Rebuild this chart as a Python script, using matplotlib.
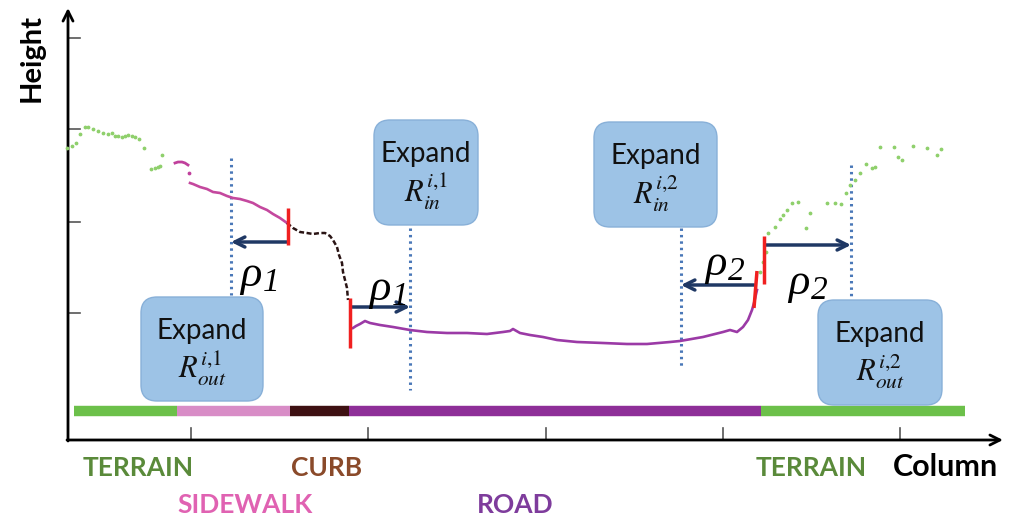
import matplotlib
matplotlib.use("Agg")
import matplotlib.pyplot as plt
from matplotlib.patches import FancyBboxPatch

plt.rcParams['mathtext.fontset'] = 'stix'

# ---------------- data (reference pixel coordinates: column, height-row) -------------
terrain_left_x = [67, 72, 76, 80, 85, 88, 93, 98, 103, 108, 112, 115, 118, 122, 125, 128, 132, 135, 139, 144, 162, 151, 155, 158, 160]
terrain_left_y = [148, 146, 143, 134, 127, 127, 129, 131, 133, 134, 133, 136, 136, 137, 136, 135, 136, 137, 139, 148, 155, 169, 168, 167, 166]

sidewalk_top_x = [175, 178, 182, 185, 188]
sidewalk_top_y = [163, 162, 162, 163, 165]
sidewalk_x = [190, 193, 200, 207, 213, 220, 227, 233, 240, 247, 253, 260, 267, 273, 280, 287]
sidewalk_y = [183, 184, 187, 189, 192, 193, 196, 198, 199, 201, 203, 207, 210, 214, 218, 223]

curb_x = [287, 293, 300, 307, 313, 320, 325, 330, 333, 337, 339, 342, 343, 345, 347, 348]
curb_y = [223, 228, 232, 233, 234, 233, 233, 236, 240, 247, 255, 263, 272, 280, 288, 300]

road_x = [353, 356, 360, 365, 370, 380, 393, 410, 427, 447, 467, 487, 503, 510, 513, 520, 530,
          543, 557, 577, 603, 627, 647, 670, 680, 703, 723, 730, 737, 743, 748, 752, 754, 757]
road_y = [328, 326, 324, 321, 323, 325, 327, 330, 332, 333, 333, 334, 332, 331, 329, 333, 335,
          337, 340, 342, 343, 344, 344, 342, 341, 337, 332, 330, 332, 327, 320, 310, 303, 290]

terrain_right_x = [760, 763, 766, 768, 775, 780, 783, 787, 792, 798, 810, 806, 827, 835, 841, 846, 850,
                   855, 860, 866, 872, 875, 880, 894, 898, 902, 913, 927, 937, 941]
terrain_right_y = [272, 262, 252, 233, 227, 219, 215, 210, 203, 202, 213, 228, 203, 203, 204, 193, 185,
                   180, 173, 164, 168, 167, 147, 147, 157, 160, 146, 148, 155, 149]

# class bar
class_labels = ["TERRAIN", "SIDEWALK", "CURB", "ROAD", "TERRAIN"]
class_start = [74, 177, 290, 349, 761]
class_end = [177, 290, 349, 761, 965]
class_colors = ["#6cc04a", "#d88cc6", "#3e1012", "#8e2f98", "#6cc04a"]
label_colors = ["#5a8a3a", "#e062b2", "#8a4a2a", "#7e3c9c", "#5a8a3a"]
label_x = [138, 245, 327, 515, 811]
label_y = [468, 505, 468, 505, 468]

x_ticks = [191, 368, 546, 723, 900]
y_ticks = [38, 129, 222, 313]

# expand boxes: (left, top, right, bottom) and text
box_left = [141, 374, 594, 818]
box_top = [297, 120, 122, 300]
box_right = [263, 478, 717, 942]
box_bottom = [401, 225, 227, 405]
box_math = [r"$R_{out}^{i{,}1}$", r"$R_{in}^{i{,}1}$", r"$R_{in}^{i{,}2}$", r"$R_{out}^{i{,}2}$"]

# dotted expansion limits
dot_x = [231, 410, 681, 851]
dot_top = [158, 228, 228, 165]
dot_bottom = [295, 390, 366, 296]

# boundary markers (red)
red_x0 = [288, 350, 757, 764]
red_x1 = [288, 350, 754, 764]
red_top = [208, 298, 271, 236]
red_bottom = [245, 348, 308, 284]

# rho arrows
arr_from = [288, 352, 754, 766]
arr_to = [231, 410, 681, 851]
arr_y = [242, 307, 285, 245]
rho_sub = ["1", "1", "2", "2"]
rho_x = [251, 380, 716, 799]
rho_y = [275, 289, 264, 283]

# ---------------- figure ----------------
fig = plt.figure(figsize=(10.13, 5.19), dpi=100)
ax = fig.add_axes([0, 0, 1, 1])
ax.set_xlim(0, 1013)
ax.set_ylim(519, 0)
ax.axis('off')

# axes with arrows
ax.annotate("", xy=(68, 8), xytext=(68, 441),
            arrowprops=dict(arrowstyle="->", lw=2, color="black", mutation_scale=18, shrinkA=0, shrinkB=0))
ax.annotate("", xy=(1003, 440), xytext=(67, 440),
            arrowprops=dict(arrowstyle="->", lw=2, color="black", mutation_scale=18, shrinkA=0, shrinkB=0))
for t in x_ticks:
    ax.plot([t, t], [440, 428], color="#555555", lw=1.2)
for t in y_ticks:
    ax.plot([68, 80], [t, t], color="#555555", lw=1.2)

ax.text(32, 58, "Height", rotation=90, ha='center', va='center', fontsize=21,
        fontweight='bold', family='Lato')
ax.text(945, 467, "Column", ha='center', va='center', fontsize=22, fontweight='bold',
        family='Lato')

# class bar
for s, e, c in zip(class_start, class_end, class_colors):
    ax.plot([s, e], [411, 411], color=c, lw=7.5, solid_capstyle='butt')
for lab, lx, ly, lc in zip(class_labels, label_x, label_y, label_colors):
    ax.text(lx, ly, lab, ha='center', va='center', fontsize=19, fontweight='bold',
            color=lc, family='Lato')

# profile
ax.scatter(terrain_left_x, terrain_left_y, s=3, color="#8fd06c", zorder=3)
ax.plot(sidewalk_top_x, sidewalk_top_y, color="#c0409c", lw=2, zorder=3)
ax.scatter([189], [173], s=3, color="#c0409c", zorder=3)
ax.plot(sidewalk_x, sidewalk_y, color="#c4489e", lw=1.9, zorder=3)
ax.plot(curb_x, curb_y, color="#2a1414", lw=1.8, ls=(0, (2, 1)), zorder=3)
ax.plot(road_x, road_y, color="#9b3aa6", lw=1.9, zorder=3)
ax.scatter(terrain_right_x, terrain_right_y, s=3, color="#8fd06c", zorder=3)

# dotted lines
for x, t, b in zip(dot_x, dot_top, dot_bottom):
    ax.plot([x, x], [t, b], color="#4a78b8", lw=2.2, ls=(0, (0.8, 1.3)), zorder=2)

# arrows
for f, to, y in zip(arr_from, arr_to, arr_y):
    ax.annotate("", xy=(to, y), xytext=(f, y),
                arrowprops=dict(arrowstyle="->", lw=2.5, color="#1f3864",
                                mutation_scale=18, shrinkA=0, shrinkB=0), zorder=4)
for sub, rx, ry in zip(rho_sub, rho_x, rho_y):
    ax.text(rx, ry, "ρ", ha='center', va='center', fontsize=32, color='black',
            family='Liberation Serif', style='italic', zorder=5)
    ax.text(rx + 20, ry + 8, sub, ha='center', va='center', fontsize=24, color='black',
            family='Liberation Serif', style='italic', zorder=5)

# red markers
for x0, x1, t, b in zip(red_x0, red_x1, red_top, red_bottom):
    ax.plot([x0, x1], [t, b], color="#f02020", lw=2.5, zorder=5, solid_capstyle='butt')

# boxes
for l, t, r, b, m in zip(box_left, box_top, box_right, box_bottom, box_math):
    p = FancyBboxPatch((l, t), r - l, b - t, boxstyle="round,pad=0,rounding_size=16",
                       facecolor="#9dc3e6", edgecolor="#88b0d8", lw=1.0, zorder=6)
    ax.add_patch(p)
    cx = (l + r) / 2
    ax.text(cx, t + 34, "Expand", ha='center', va='center', fontsize=20,
            family='Lato', color='#111111', zorder=7)
    ax.text(cx, t + 72, m, ha='center', va='center', fontsize=22, color='#111111', zorder=7)

fig.savefig("out.png", dpi=100)
